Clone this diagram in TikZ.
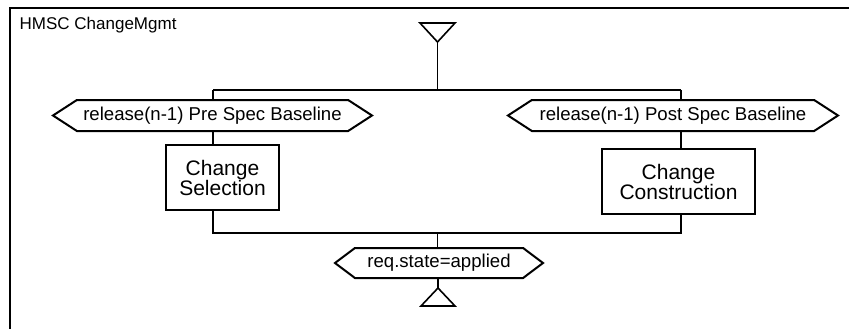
\documentclass[tikz,border=0pt]{standalone}
\usepackage{fontspec}
\setmainfont{Liberation Sans}
\usetikzlibrary{shapes.symbols}
\begin{document}
\begin{tikzpicture}[x=1pt,y=-1pt,
  hexnode/.style={signal, signal to=west and east, signal pointer angle=66, draw,
    line width=2pt, inner sep=0pt, minimum height=31pt,
    font=\fontsize{18.6}{20}\selectfont},
  procbox/.style={rectangle, draw, line width=1.3pt, inner sep=0pt, align=center,
    minimum height=65pt, font=\fontsize{21}{20}\selectfont},
  conn/.style={line width=1.9pt},
  tri/.style={line width=1.6pt, line join=miter}]
\useasboundingbox (0,0) rectangle (849,329);

% diagram frame (open to the right and bottom)
\draw[line width=2.5pt] (10,345) -- (10,8) -- (865,8);
\node[anchor=base west, inner sep=0pt, font=\fontsize{17}{18}\selectfont] (title) at (19.5,30) {HMSC ChangeMgmt};

% start and end symbols
\coordinate (start) at (437.5,42);
\draw[tri] (start) -- ++(-17.5,-19) -- ++(35,0) -- cycle;
\coordinate (stop) at (438,288);
\draw[tri] (stop) -- ++(-17,18) -- ++(34,0) -- cycle;

% conditions
\node[hexnode, minimum width=319pt] (pre) at (212.5,115.5) {release(n-1) Pre Spec Baseline};
\node[hexnode, minimum width=330pt] (post) at (673,115.5) {release(n-1) Post Spec Baseline};
\node[hexnode, minimum width=208pt, minimum height=30pt, signal pointer angle=74] (applied) at (439,263) {req.state=applied};

% references
\node[procbox, minimum width=113pt] (sel) at (222.5,177.5) {Change\\Selection};
\node[procbox, minimum width=153pt] (cons) at (678.5,181.5) {Change\\Construction};

% junction points
\coordinate (jtop) at (437.5,90);
\coordinate (jl) at (213,90);
\coordinate (jr) at (681,90);
\coordinate (bl) at (213,233);
\coordinate (br) at (681,233);
\coordinate (bm) at (437.5,233);

% connectors
\draw[conn] (start) -- (jtop);
\draw[conn] (jl) -- (jr);
\draw[conn] (jl) -- (jl |- pre.north);
\draw[conn] (jr) -- (jr |- post.north);
\draw[conn] (jl |- pre.south) -- (jl |- sel.north);
\draw[conn] (jr |- post.south) -- (jr |- cons.north);
\draw[conn] (bl |- sel.south) -- (bl) -- (br) -- (br |- cons.south);
\draw[conn] (bm) -- (bm |- applied.north);
\draw[conn] (applied.south -| stop) -- (stop);
\end{tikzpicture}
\end{document}
